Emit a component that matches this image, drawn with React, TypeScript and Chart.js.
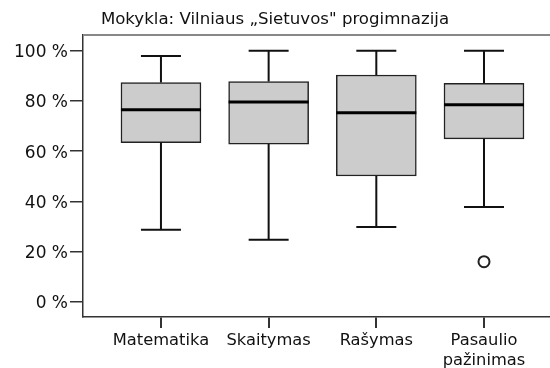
import React, { useEffect, useRef } from "react";
import { Chart, registerables } from "chart.js";

Chart.register(...registerables);

const title = "Mokykla: Vilniaus „Sietuvos\" progimnazija";
const categories: (string | string[])[] = ["Matematika", "Skaitymas", "Rašymas", ["Pasaulio", "pažinimas"]];
const whiskerLow = [28.7, 24.7, 29.8, 37.8];
const q1 = [63.4, 62.8, 50.1, 64.9];
const median = [76.5, 79.6, 75.3, 78.5];
const q3 = [87.3, 87.7, 90.3, 87.0];
const whiskerHigh = [97.9, 100, 100, 100];
const outlierCategory = [4];
const outlierValue = [16.0];
const yTicks = [0, 20, 40, 60, 80, 100];

const FONT = "'DejaVu Sans', sans-serif";

const boxExtras = {
  id: "boxExtras",
  afterDatasetsDraw(chart: any) {
    const { ctx, scales } = chart;
    const x = scales.x;
    const y = scales.y;
    ctx.save();
    ctx.strokeStyle = "#111";
    ctx.lineCap = "butt";
    categories.forEach((_, i) => {
      const cx = x.getPixelForValue(i + 1);
      const half = 20;
      const boxHalf = 40;
      ctx.lineWidth = 2;
      ctx.beginPath();
      ctx.moveTo(cx, y.getPixelForValue(q3[i]));
      ctx.lineTo(cx, y.getPixelForValue(whiskerHigh[i]));
      ctx.moveTo(cx - half, y.getPixelForValue(whiskerHigh[i]));
      ctx.lineTo(cx + half, y.getPixelForValue(whiskerHigh[i]));
      ctx.moveTo(cx, y.getPixelForValue(q1[i]));
      ctx.lineTo(cx, y.getPixelForValue(whiskerLow[i]));
      ctx.moveTo(cx - half, y.getPixelForValue(whiskerLow[i]));
      ctx.lineTo(cx + half, y.getPixelForValue(whiskerLow[i]));
      ctx.stroke();
      ctx.lineWidth = 3;
      ctx.strokeStyle = "#000";
      ctx.beginPath();
      ctx.moveTo(cx - boxHalf, y.getPixelForValue(median[i]));
      ctx.lineTo(cx + boxHalf, y.getPixelForValue(median[i]));
      ctx.stroke();
      ctx.strokeStyle = "#111";
    });
    const a = chart.chartArea;
    ctx.strokeStyle = "#888";
    ctx.lineWidth = 2;
    ctx.beginPath();
    ctx.moveTo(a.left, a.top);
    ctx.lineTo(a.right, a.top);
    ctx.stroke();
    ctx.restore();
  },
};

export default function App() {
  const ref = useRef<HTMLCanvasElement | null>(null);
  useEffect(() => {
    if (!ref.current) return;
    const chart = new Chart(ref.current, {
      type: "bar",
      data: {
        datasets: [
          {
            type: "bar",
            data: categories.map((_, i) => ({ x: i + 1, y: [q1[i], q3[i]] })) as any,
            backgroundColor: "#cccccc",
            borderColor: "#222",
            borderWidth: 1.5,
            borderSkipped: false,
            barThickness: 80,
          } as any,
          {
            type: "scatter",
            data: outlierCategory.map((c, i) => ({ x: c, y: outlierValue[i] })),
            pointRadius: 5.5,
            pointBorderWidth: 2,
            pointBackgroundColor: "#fff",
            pointBorderColor: "#222",
          } as any,
        ],
      },
      options: {
        animation: false,
        responsive: false,
        layout: { padding: 0, autoPadding: false },
        plugins: {
          legend: { display: false },
          tooltip: { enabled: false },
          title: {
            display: true,
            text: title,
            color: "#111",
            font: { family: FONT, size: 16.6, weight: "normal" },
            padding: { top: 10, bottom: 5 },
          },
        },
        scales: {
          x: {
            type: "linear",
            min: 0.276,
            max: 4.613,
            offset: false,
            afterBuildTicks: (s: any) => {
              s.ticks = categories.map((_, i) => ({ value: i + 1 }));
            },
            afterFit: (s: any) => {
              s.height = 51;
              s.paddingLeft = 0;
              s.paddingRight = 0;
            },
            ticks: {
              autoSkip: false,
              maxRotation: 0,
              color: "#111",
              padding: 3,
              font: { family: FONT, size: 16.3 },
              callback: (v: any) => categories[Number(v) - 1] as any,
            },
            grid: { offset: false, drawOnChartArea: false, drawTicks: true, tickLength: 11, color: "#333", lineWidth: 2 },
            border: { display: true, color: "#333", width: 1.5 },
          },
          y: {
            type: "linear",
            min: -6,
            max: 106.25,
            afterBuildTicks: (s: any) => {
              s.ticks = yTicks.map((v) => ({ value: v }));
            },
            afterFit: (s: any) => {
              s.width = 83;
              s.paddingTop = 0;
              s.paddingBottom = 0;
            },
            ticks: {
              color: "#111",
              padding: 2,
              labelOffset: 2,
              font: { family: FONT, size: 17 },
              callback: (v: any) => `${v} %`,
            },
            grid: { drawOnChartArea: false, drawTicks: true, tickLength: 13, color: "#333", lineWidth: 1.5 },
            border: { display: true, color: "#333", width: 1.5 },
          },
        },
      },
      plugins: [boxExtras],
    });
    return () => chart.destroy();
  }, []);
  return (
    <div style={{ position: "fixed", left: 0, top: 0, width: 550, height: 368, background: "#fff" }}>
      <canvas ref={ref} width={550} height={368} />
    </div>
  );
}
